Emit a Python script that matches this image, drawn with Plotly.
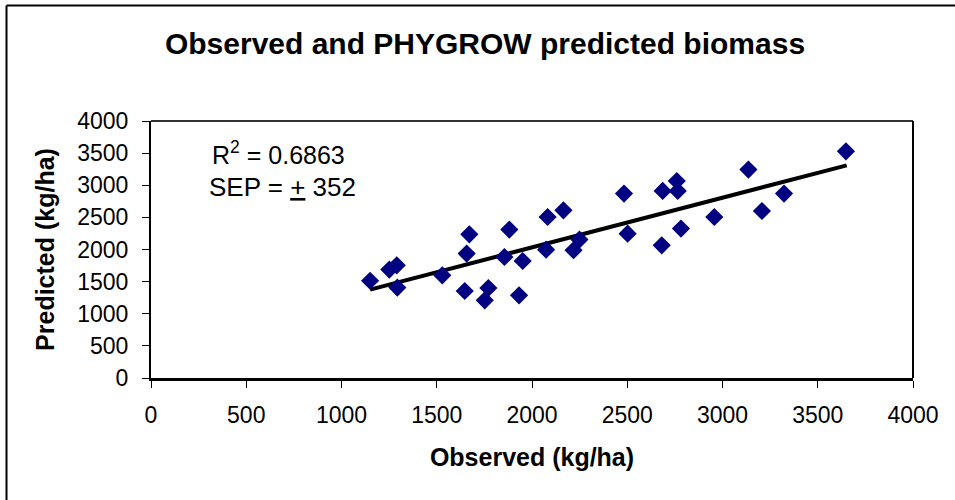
import plotly.graph_objects as go

# Data
observed = [1150, 1251, 1290, 1293, 1529, 1671, 1657, 1647, 1752, 1771,
            1855, 1881, 1932, 1951, 2074, 2082, 2165, 2218, 2249, 2502,
            2483, 2686, 2681, 2760, 2765, 2782, 2957, 3136, 3207, 3323, 3648]
predicted = [1514, 1687, 1754, 1407, 1598, 2236, 1936, 1354, 1209, 1401,
             1883, 2310, 1287, 1821, 1998, 2506, 2610, 1988, 2154, 2247,
             2870, 2911, 2065, 3066, 2911, 2325, 2506, 3244, 2599, 2870, 3528]
trend_x = [1150, 3652]
trend_y = [1376, 3310]
tick_vals = [0, 500, 1000, 1500, 2000, 2500, 3000, 3500, 4000]

FONT = "Liberation Sans, Arial, sans-serif"

fig = go.Figure()
fig.add_trace(go.Scatter(
    x=trend_x, y=trend_y, mode="lines",
    line=dict(color="black", width=4), hoverinfo="skip", showlegend=False))
fig.add_trace(go.Scatter(
    x=observed, y=predicted, mode="markers",
    marker=dict(symbol="diamond", size=14, color="#000080",
                line=dict(width=0)),
    showlegend=False))

L, R, T, B = 151, 42, 121, 122
W, H = 955, 500
pw, ph = W - L - R, H - T - B

def px(xp):
    return (xp - L) / pw

def py(yp):
    return (H - B - yp) / ph

fig.update_layout(
    width=W, height=H,
    margin=dict(l=L, r=R, t=T, b=B),
    paper_bgcolor="white", plot_bgcolor="white",
    font=dict(family=FONT, size=23, color="black"),
    title=dict(text="<b>Observed and PHYGROW predicted biomass</b>",
               x=485 / W, xanchor="center", y=1 - 43 / H, yanchor="middle",
               font=dict(family=FONT, size=30, color="black")),
    xaxis=dict(range=[0, 4000], tickvals=tick_vals, ticks="outside",
               ticklen=7, tickcolor="black", tickwidth=1,
               ticklabelstandoff=7,
               showline=True, linecolor="black", linewidth=3, mirror=False,
               showgrid=False, zeroline=False,
               tickfont=dict(family=FONT, size=23),
               title=dict(text="<b>Observed (kg/ha)</b>", standoff=22,
                          font=dict(family=FONT, size=25))),
    yaxis=dict(range=[0, 4000], tickvals=tick_vals, ticks="outside",
               ticklen=7, tickcolor="black", tickwidth=1,
               ticklabelstandoff=9,
               showline=True, linecolor="black", linewidth=2, mirror=False,
               showgrid=False, zeroline=False,
               tickfont=dict(family=FONT, size=23),
               title=dict(text="<b>Predicted (kg/ha)</b>", standoff=15,
                          font=dict(family=FONT, size=25))),
    shapes=[
        # plot frame top & right
        dict(type="line", xref="paper", yref="paper", x0=0, x1=1, y0=1, y1=1,
             line=dict(color="#333333", width=2)),
        dict(type="line", xref="paper", yref="paper", x0=1, x1=1, y0=0, y1=1,
             line=dict(color="black", width=2)),
        # outer chart frame (top and left visible)
        dict(type="line", xref="paper", yref="paper",
             x0=px(6.5), x1=px(W), y0=py(5.5), y1=py(5.5),
             line=dict(color="black", width=2)),
        dict(type="line", xref="paper", yref="paper",
             x0=px(6.5), x1=px(6.5), y0=py(5.5), y1=py(H),
             line=dict(color="black", width=2)),
    ],
    annotations=[
        dict(text="R<sup>2</sup> = 0.6863", xref="paper", yref="paper",
             x=px(278), y=py(153), xanchor="center", yanchor="middle",
             showarrow=False, font=dict(family=FONT, size=25)),
        dict(text="SEP = <u>+</u> 352", xref="paper", yref="paper",
             x=px(282), y=py(187), xanchor="center", yanchor="middle",
             showarrow=False, font=dict(family=FONT, size=26)),
    ],
)

fig.write_html("out.html", config={"displayModeBar": False},
               post_script="document.body.style.margin='0';")
